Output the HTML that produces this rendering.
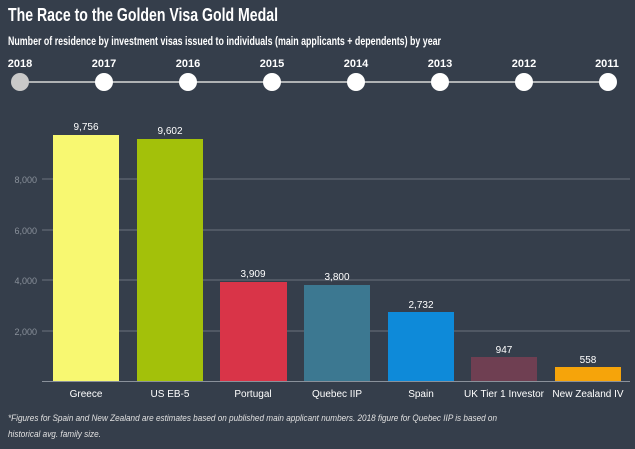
<!DOCTYPE html>
<html><head><meta charset="utf-8"><style>
body{margin:0;width:635px;height:444px;background:#353e4b;overflow:hidden;font-family:"Liberation Sans",sans-serif}
</style></head><body>
<svg width="635" height="444" xmlns="http://www.w3.org/2000/svg" font-family="Liberation Sans, sans-serif">
<rect width="635" height="444" fill="#353e4b"/>
<text x="8" y="21" fill="#fff" font-size="18" font-weight="bold" textLength="270" lengthAdjust="spacingAndGlyphs">The Race to the Golden Visa Gold Medal</text>
<text x="8" y="45" fill="#fff" font-size="11.5" font-weight="bold" textLength="433" lengthAdjust="spacingAndGlyphs">Number of residence by investment visas issued to individuals (main applicants + dependents) by year</text>
<line x1="20" y1="82" x2="612" y2="82" stroke="#d8d8d8" stroke-width="1.5"/>
<g font-size="11" font-weight="bold" fill="#fff" text-anchor="middle">
<text x="20" y="67">2018</text><text x="104" y="67">2017</text><text x="188" y="67">2016</text><text x="272" y="67">2015</text><text x="356" y="67">2014</text><text x="440" y="67">2013</text><text x="524" y="67">2012</text><text x="607" y="67">2011</text>
</g>
<circle cx="20" cy="82" r="9" fill="#c9c9c9"/>
<g fill="#fff"><circle cx="104" cy="82" r="9"/><circle cx="188" cy="82" r="9"/><circle cx="272" cy="82" r="9"/><circle cx="356" cy="82" r="9"/><circle cx="440" cy="82" r="9"/><circle cx="524" cy="82" r="9"/><circle cx="608" cy="82" r="9"/></g>
<g stroke="#6a727d" stroke-width="1"><line x1="42" y1="179" x2="630" y2="179"/><line x1="42" y1="230" x2="630" y2="230"/><line x1="42" y1="280" x2="630" y2="280"/><line x1="42" y1="331" x2="630" y2="331"/></g>
<g font-size="9" fill="#8a919b" text-anchor="end"><text x="37" y="183">8,000</text><text x="37" y="234">6,000</text><text x="37" y="284">4,000</text><text x="37" y="335">2,000</text></g>
<rect x="53" y="135" width="66" height="246" fill="#f8f871"/>
<rect x="137" y="139" width="66" height="242" fill="#a3c10a"/>
<rect x="220" y="282" width="67" height="99" fill="#d93448"/>
<rect x="304" y="285" width="66" height="96" fill="#3c7891"/>
<rect x="388" y="312" width="66" height="69" fill="#0e8ad9"/>
<rect x="471" y="357" width="66" height="24" fill="#6f3f52"/>
<rect x="555" y="367" width="66" height="14" fill="#f6a40a"/>
<line x1="42" y1="381.5" x2="630" y2="381.5" stroke="#8a919b" stroke-width="1"/>
<g font-size="10" fill="#fff" text-anchor="middle">
<text x="86" y="130">9,756</text><text x="170" y="134">9,602</text><text x="253" y="277">3,909</text><text x="337" y="280">3,800</text><text x="421" y="308">2,732</text><text x="504" y="353">947</text><text x="588" y="363">558</text>
</g>
<g font-size="10" fill="#fff" text-anchor="middle">
<text x="86" y="397">Greece</text><text x="170" y="397">US EB-5</text><text x="253" y="397">Portugal</text><text x="337" y="397">Quebec IIP</text><text x="421" y="397">Spain</text><text x="504" y="397">UK Tier 1 Investor</text><text x="588" y="397">New Zealand IV</text>
</g>
<g font-size="9.6" fill="#e0e0e0" font-style="italic">
<text x="8" y="421" textLength="489" lengthAdjust="spacingAndGlyphs">*Figures for Spain and New Zealand are estimates based on published main applicant numbers. 2018 figure for Quebec IIP is based on</text>
<text x="8" y="437" textLength="93" lengthAdjust="spacingAndGlyphs">historical avg. family size.</text>
</g>
</svg>
</body></html>
